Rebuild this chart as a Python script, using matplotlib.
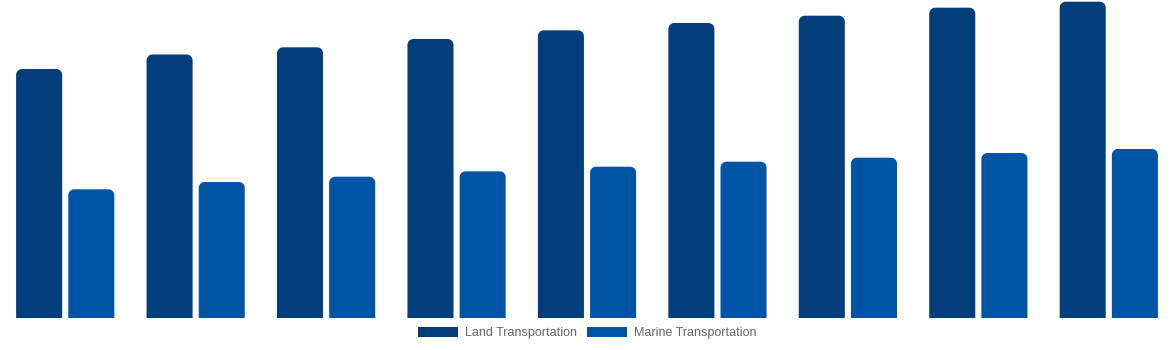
import numpy as np
import matplotlib
matplotlib.use("Agg")
import matplotlib.pyplot as plt
from matplotlib.patches import PathPatch, Patch
from matplotlib.path import Path

# values (no axis shown, so relative units)
groups = list(range(1, 10))
land = [249, 263.5, 270.7, 279, 287.7, 295, 302.3, 310.3, 316.3]
marine = [128.7, 136, 141.3, 146.7, 151.3, 156.3, 160.3, 165, 169]
labels = ["Land Transportation", "Marine Transportation"]
colors = ["#033d7c", "#0054a6"]

W, H = 1174, 350
fig = plt.figure(figsize=(W / 100, H / 100), dpi=100)
ax = fig.add_axes([0, 32 / H, 1, 318 / H])
ax.set_xlim(-0.5, len(groups) - 0.5)
ax.set_ylim(0, 318)
ax.axis("off")

x = np.arange(len(groups))
bw = 0.353
# corner radius of 6 px, converted to data units on each axis
rx = 6 * len(groups) / W
ry = 6 * 318 / 318


def top_rounded(x0, w, h):
    t = np.linspace(0, np.pi / 2, 12)
    pts = [(x0, 0)]
    pts += list(zip(x0 + rx - rx * np.cos(t), h - ry + ry * np.sin(t)))
    pts += list(zip(x0 + w - rx + rx * np.sin(t), h - ry + ry * np.cos(t)))
    pts += [(x0 + w, 0), (x0, 0)]
    return Path(pts, closed=True)


for vals, off, c in [(land, -0.2, colors[0]), (marine, 0.2, colors[1])]:
    for xi, v in zip(x, vals):
        ax.add_patch(PathPatch(top_rounded(xi + off - bw / 2, bw, v),
                               facecolor=c, edgecolor="none"))

handles = [Patch(facecolor=c, edgecolor="none") for c in colors]
fig.legend(handles, labels, loc="center", bbox_to_anchor=(0.5, 17 / H), ncol=2,
           frameon=False, borderpad=0, handlelength=3.2, handleheight=0.9,
           handletextpad=0.55, columnspacing=0.8,
           prop={"family": "Liberation Sans", "size": 9}, labelcolor="#666666")

fig.savefig("out.png", dpi=100)
